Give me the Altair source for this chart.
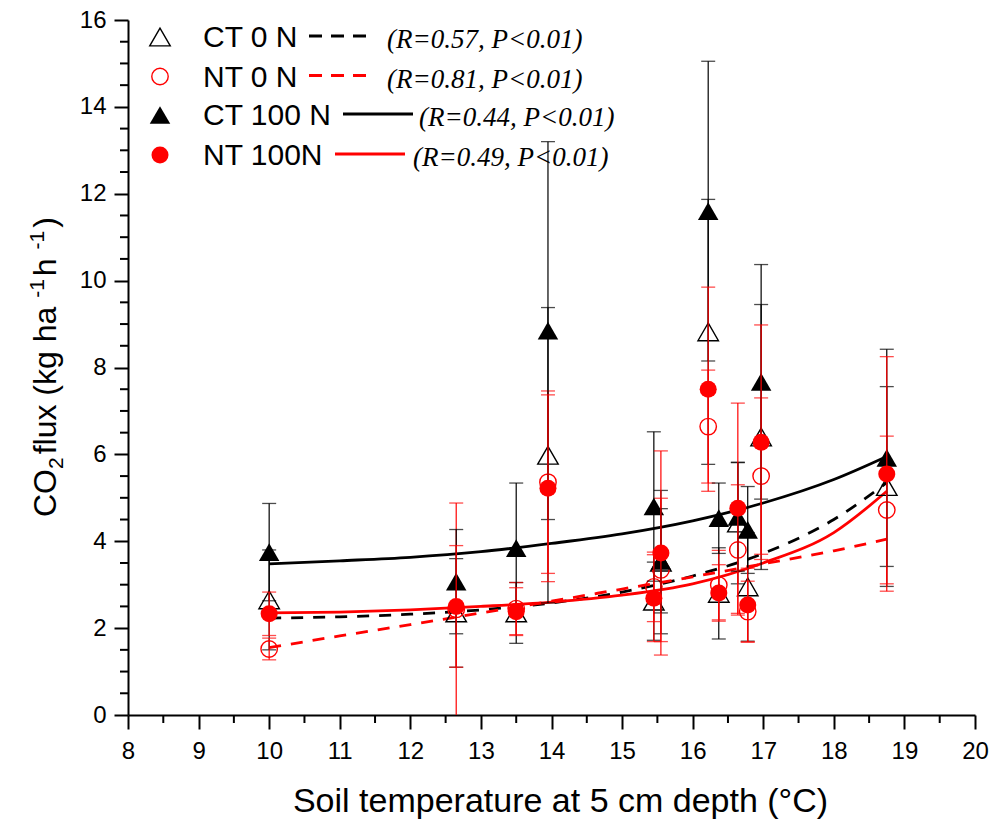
import altair as alt
import pandas as pd

# Soil temperature (deg C) at each sampling date
temps = [10.0, 12.65, 13.5, 13.95, 15.45, 15.55, 16.22, 16.37, 16.64, 16.78, 16.97, 18.75]

series_names = ["CT 0 N", "NT 0 N", "CT 100 N", "NT 100N"]
fit_stats = ["(R=0.57, P<0.01)", "(R=0.81, P<0.01)", "(R=0.44, P<0.01)", "(R=0.49, P<0.01)"]

# CO2 flux means and error bars (kg ha-1 h-1)
ct0_flux = [2.65, 2.35, 2.35, 5.98, 2.62, 3.52, 8.82, 2.80, 4.42, 2.95, 6.40, 5.26]
ct0_err = [1.15, 1.25, 0.70, 3.40, 0.90, 1.65, 3.05, 1.05, 1.40, 1.25, 3.05, 2.30]
nt0_flux = [1.52, 2.43, 2.45, 5.36, 2.95, 3.34, 6.64, 2.99, 3.80, 2.38, 5.50, 4.72]
nt0_err = [0.25, 2.45, 0.60, 2.10, 0.80, 1.65, 1.30, 0.80, 1.50, 0.70, 1.80, 1.70]
ct100_flux = [3.75, 3.07, 3.84, 8.85, 4.80, 3.55, 11.60, 4.53, 4.56, 4.26, 7.67, 5.92]
ct100_err = [1.12, 1.20, 1.50, 4.35, 1.72, 1.20, 3.45, 0.81, 1.25, 1.00, 2.70, 2.50]
nt100_flux = [2.33, 2.50, 2.38, 5.22, 2.69, 3.73, 7.50, 2.81, 4.76, 2.53, 6.28, 5.55]
nt100_err = [0.50, 1.40, 0.55, 2.15, 1.00, 2.35, 2.35, 0.65, 2.42, 0.85, 2.70, 2.70]

# Fitted response curves
curve_t = [10.0, 11.0, 12.0, 13.0, 14.0, 15.0, 16.0, 17.0, 18.0, 18.75]
ct0_fit = [2.23, 2.26, 2.32, 2.42, 2.58, 2.83, 3.20, 3.72, 4.50, 5.35]
nt0_fit = [1.55, 1.82, 2.08, 2.35, 2.62, 2.90, 3.18, 3.48, 3.78, 4.05]
ct100_fit = [3.48, 3.55, 3.63, 3.76, 3.95, 4.17, 4.47, 4.88, 5.42, 5.95]
nt100_fit = [2.35, 2.37, 2.42, 2.50, 2.60, 2.76, 3.02, 3.50, 4.20, 5.15]

# y-axis title pieces: (text, role)
y_title_parts = [("CO", "main"), ("2", "sub"), (" flux (kg ha", "main"),
                 ("-1", "sup"), (" h", "main"), ("-1", "sup"), (")", "main")]

x_major = list(range(8, 21))
x_minor = [v + 0.5 for v in range(8, 20)]
y_major = list(range(0, 17, 2))
y_minor = [v * 0.5 for v in range(0, 33) if v % 4 != 0]

W, H = 847, 695
SANS = "Liberation Sans"
SERIF = "Liberation Serif"
RED = "#ff0000"
BLACK = "#000000"

x_scale = alt.Scale(domain=[8, 20], nice=False, zero=False)
y_scale = alt.Scale(domain=[0, 16], nice=False, zero=True)

x_axis = alt.Axis(
    values=x_major, grid=False, title="Soil temperature at 5 cm depth (°C)",
    titleFont=SANS, titleFontSize=34, titleFontWeight="normal", titleColor=BLACK,
    titleX=432, titleY=96, titleAlign="center", titleBaseline="alphabetic",
    labelFont=SANS, labelFontSize=24, labelColor=BLACK, labelPadding=10,
    labelFlush=False, labelOverlap=False,
    tickSize=14, tickWidth=2, tickColor=BLACK, domainColor=BLACK, domainWidth=2,
)
y_axis = alt.Axis(
    values=y_major, grid=False, title=None,
    labelFont=SANS, labelFontSize=24, labelColor=BLACK, labelPadding=8,
    labelFlush=False, labelOverlap=False,
    tickSize=14, tickWidth=2, tickColor=BLACK, domainColor=BLACK, domainWidth=2,
)


def X(field):
    return alt.X(f"{field}:Q", scale=x_scale, axis=x_axis)


def Y(field):
    return alt.Y(f"{field}:Q", scale=y_scale, axis=y_axis)


def series_layers(flux, err, color, shape, filled, size):
    df = pd.DataFrame({
        "t": temps,
        "f": flux,
        "lo": [m - e for m, e in zip(flux, err)],
        "hi": [m + e for m, e in zip(flux, err)],
    })
    base = alt.Chart(df)
    bar = base.mark_rule(color=color, strokeWidth=1.2, clip=True).encode(
        x=X("t"), y=Y("lo"), y2="hi:Q")
    cap_hi = base.mark_tick(orient="horizontal", color=color, size=14,
                            thickness=1.3, clip=True).encode(x=X("t"), y=Y("hi"))
    cap_lo = base.mark_tick(orient="horizontal", color=color, size=14,
                            thickness=1.3, clip=True).encode(x=X("t"), y=Y("lo"))
    if filled:
        pt = base.mark_point(shape=shape, filled=True, color=color, size=size,
                             opacity=1, strokeWidth=0)
    else:
        pt = base.mark_point(shape=shape, filled=False, color=color, size=size,
                             opacity=1, strokeWidth=1.4)
    pt = pt.encode(x=X("t"), y=Y("f"))
    return [bar, cap_hi, cap_lo, pt]


def fit_layer(values, color, dash):
    df = pd.DataFrame({"t": curve_t, "f": values})
    kw = dict(color=color, strokeWidth=2.8, interpolate="monotone", clip=True)
    if dash:
        kw["strokeDash"] = [12, 10]
    return alt.Chart(df).mark_line(**kw).encode(x=X("t"), y=Y("f"))


layers = []

# minor ticks on both axes
layers.append(
    alt.Chart(pd.DataFrame({"m": x_minor})).mark_rule(color=BLACK, strokeWidth=2).encode(
        x=X("m"), y=alt.value(H), y2=alt.value(H + 8))
)
layers.append(
    alt.Chart(pd.DataFrame({"m": y_minor})).mark_rule(color=BLACK, strokeWidth=2).encode(
        y=Y("m"), x=alt.value(0), x2=alt.value(-8))
)

# fitted curves
layers.append(fit_layer(ct0_fit, BLACK, True))
layers.append(fit_layer(nt0_fit, RED, True))
layers.append(fit_layer(ct100_fit, BLACK, False))
layers.append(fit_layer(nt100_fit, RED, False))

# observations with error bars
layers += series_layers(ct0_flux, ct0_err, BLACK, "triangle-up", False, 420)
layers += series_layers(nt0_flux, nt0_err, RED, "circle", False, 270)
layers += series_layers(ct100_flux, ct100_err, BLACK, "triangle-up", True, 420)
layers += series_layers(nt100_flux, nt100_err, RED, "circle", True, 290)

# y-axis title, set piece by piece so sub/superscripts sit like the printed label
MAIN_FS, SMALL_FS = 32, 21
char_w = {"C": .722, "O": .778, "2": .556, " ": .278, "f": .278, "l": .222,
          "u": .556, "x": .5, "(": .333, "k": .5, "g": .556, "h": .556,
          "a": .556, "-": .333, "1": .556, ")": .333}
pos = 497  # bottom end of the rotated title, in plot-area pixels
base_x = -72
for text, role in y_title_parts:
    fs = MAIN_FS if role == "main" else SMALL_FS
    dx = {"main": 0, "sub": 7, "sup": -12}[role]
    layers.append(
        alt.Chart(pd.DataFrame({"s": [text]})).mark_text(
            font=SANS, fontSize=fs, color=BLACK, angle=270, align="left",
            baseline="alphabetic").encode(
            text="s:N", x=alt.value(base_x + dx), y=alt.value(pos))
    )
    pos -= sum(char_w.get(c, .556) for c in text) * fs + (3 if role != "main" else 0)

# legend block
legend_rows = [
    dict(y=17, shape="triangle-up", filled=False, color=BLACK, size=420,
         line=(181, 242), dash=True, stat_x=259),
    dict(y=56.5, shape="circle", filled=False, color=RED, size=270,
         line=(181, 242), dash=True, stat_x=259),
    dict(y=95, shape="triangle-up", filled=True, color=BLACK, size=420,
         line=(215, 285), dash=False, stat_x=291),
    dict(y=135, shape="circle", filled=True, color=RED, size=290,
         line=(207, 277), dash=False, stat_x=285),
]
for i, row in enumerate(legend_rows):
    one = alt.Chart(pd.DataFrame({"name": [series_names[i]], "stat": [fit_stats[i]]}))
    if row["filled"]:
        sym = one.mark_point(shape=row["shape"], filled=True, color=row["color"],
                             size=row["size"], opacity=1, strokeWidth=0)
    else:
        sym = one.mark_point(shape=row["shape"], filled=False, color=row["color"],
                             size=row["size"], opacity=1, strokeWidth=1.4)
    layers.append(sym.encode(x=alt.value(32), y=alt.value(row["y"])))
    layers.append(
        one.mark_text(font=SANS, fontSize=30, color=BLACK, align="left",
                      baseline="middle").encode(
            text="name:N", x=alt.value(75), y=alt.value(row["y"] + 1))
    )
    lkw = dict(color=row["color"], strokeWidth=2.8)
    if row["dash"]:
        lkw["strokeDash"] = [13, 9]
    layers.append(
        one.mark_rule(**lkw).encode(
            x=alt.value(row["line"][0]), x2=alt.value(row["line"][1]),
            y=alt.value(row["y"] - 1))
    )
    layers.append(
        one.mark_text(font=SERIF, fontSize=27, fontStyle="italic", color=BLACK,
                      align="left", baseline="middle").encode(
            text="stat:N", x=alt.value(row["stat_x"]), y=alt.value(row["y"] + 3))
    )

chart = alt.layer(*layers).properties(
    width=W, height=H,
    padding={"left": 128, "top": 20, "right": 20, "bottom": 113},
    autosize="none",
    background="white",
).configure_view(stroke=None)

chart.save("out.html", embed_options={"renderer": "svg", "actions": False})
